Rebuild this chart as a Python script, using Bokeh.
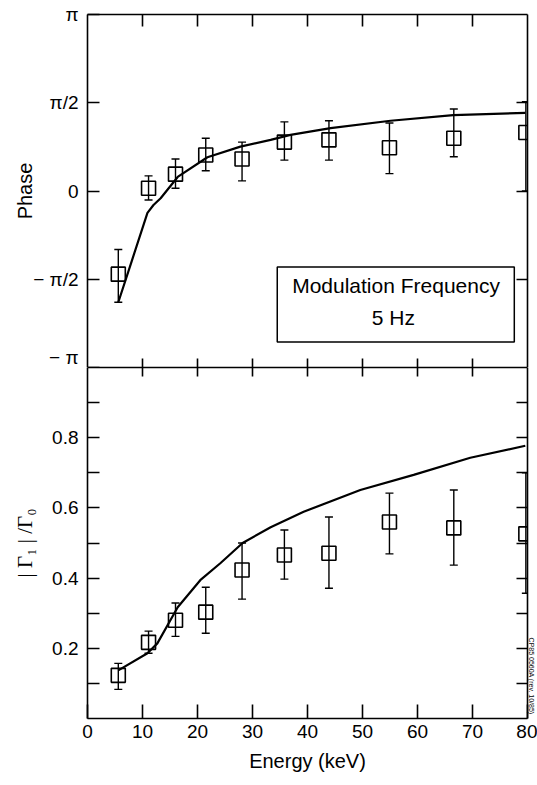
import numpy as np
from bokeh.plotting import figure
from bokeh.layouts import column
from bokeh.models import (Range1d, LinearAxis, FixedTicker, ColumnDataSource, Whisker,
                          TeeHead, BoxAnnotation, Label, CustomJSTickFormatter, Title)
from bokeh.embed import file_html
from bokeh.resources import INLINE

# ---------------- data ----------------
energy = [5.6, 11.1, 16.0, 21.5, 28.1, 35.8, 43.9, 54.9, 66.6, 79.7]

phase = [-1.48, 0.05, 0.30, 0.64, 0.57, 0.87, 0.91, 0.77, 0.94, 1.04]
phase_hi = [-1.04, 0.27, 0.57, 0.94, 0.87, 1.23, 1.25, 1.21, 1.46, 1.59]
phase_lo = [-1.98, -0.16, 0.05, 0.36, 0.18, 0.55, 0.55, 0.31, 0.61, 0.00]

phase_fit_e = [5.6, 8.0, 10.9, 12.0, 13.3, 16.4, 21.8, 27.8, 33.3, 36.9, 44.2, 55.1, 66.5, 79.6]
phase_fit = [-1.98, -1.26, -0.39, -0.25, -0.13, 0.25, 0.60, 0.79, 0.91, 1.00, 1.12, 1.25, 1.35, 1.39]

amp = [0.123, 0.217, 0.280, 0.303, 0.423, 0.466, 0.471, 0.560, 0.543, 0.526]
amp_hi = [0.157, 0.249, 0.329, 0.374, 0.500, 0.537, 0.574, 0.642, 0.651, 0.700]
amp_lo = [0.083, 0.186, 0.234, 0.243, 0.340, 0.397, 0.371, 0.469, 0.437, 0.357]

amp_fit_e = [5.6, 10.9, 12.7, 16.4, 20.5, 24.2, 28.2, 33.3, 39.3, 49.6, 59.3, 69.6, 79.6]
amp_fit = [0.137, 0.186, 0.214, 0.317, 0.394, 0.443, 0.500, 0.545, 0.589, 0.651, 0.694, 0.743, 0.777]

x_ticks = [0, 10, 20, 30, 40, 50, 60, 70, 80]
inner_x_ticks = [10, 20, 30, 40, 50, 60, 70]
phase_ticks = [-np.pi, -np.pi / 2, 0, np.pi / 2, np.pi]
phase_labels = ["− π", "− π/2", "0", "π/2", "π"]
amp_major = [0.2, 0.4, 0.6, 0.8]
amp_minor = [0.1, 0.3, 0.5, 0.7, 0.9]

FONT = "Liberation Sans"
LW = 1.6
TICK_FS = "19px"

xr = Range1d(0, 80)


def hidden_axis(ticks, tick_in, minor=None):
    return LinearAxis(ticker=FixedTicker(ticks=ticks, minor_ticks=minor or []),
                      formatter=CustomJSTickFormatter(code="return ''"),
                      major_tick_in=tick_in, major_tick_out=0,
                      minor_tick_in=tick_in, minor_tick_out=0,
                      major_label_text_font_size="1px", major_label_standoff=0,
                      axis_line_width=LW, major_tick_line_width=LW,
                      minor_tick_line_width=LW, axis_line_color="black")


# ---------------- top panel ----------------
top = figure(frame_width=440, frame_height=353, x_range=xr, y_range=Range1d(-np.pi, np.pi),
             output_backend="svg", toolbar_location=None, x_axis_location=None,
             y_axis_location=None, min_border_left=87, min_border_right=10,
             min_border_top=14, min_border_bottom=0)
top.grid.visible = False
top.outline_line_color = None

yl = LinearAxis(ticker=FixedTicker(ticks=phase_ticks),
                major_label_overrides={t: l for t, l in zip(phase_ticks, phase_labels)},
                major_tick_in=12, major_tick_out=0, minor_tick_in=0, minor_tick_out=0,
                major_label_standoff=9, major_label_text_font=FONT,
                major_label_text_font_size=TICK_FS, major_label_text_color="black",
                axis_label="Phase", axis_label_text_font=FONT,
                axis_label_text_font_size="20px", axis_label_text_font_style="normal",
                axis_label_text_color="black",
                axis_label_standoff=-6, axis_line_width=LW, major_tick_line_width=LW)
top.add_layout(yl, "left")
top.add_layout(hidden_axis(inner_x_ticks, 12), "above")
top.add_layout(hidden_axis([-np.pi / 2, 0, np.pi / 2], 11), "right")
top.add_layout(hidden_axis(inner_x_ticks, 9), "below")

src_p = ColumnDataSource(dict(x=energy, y=phase, hi=phase_hi, lo=phase_lo))
top.add_layout(Whisker(base="x", upper="hi", lower="lo", source=src_p, line_width=1.4,
                       upper_head=TeeHead(size=8, line_width=1.4),
                       lower_head=TeeHead(size=8, line_width=1.4)))
top.line(phase_fit_e, phase_fit, line_width=2.2, line_color="black")
top.scatter("x", "y", source=src_p, marker="square", size=14, fill_color=None,
            line_color="black", line_width=1.6)

top.add_layout(BoxAnnotation(left=34.5, right=77.6, top=-1.353, bottom=-2.687,
                             fill_color="white", fill_alpha=1.0,
                             line_color="black", line_alpha=1.0, line_width=1.5))
top.add_layout(Label(x=56.1, y=-1.69, text="Modulation Frequency", text_align="center",
                     text_baseline="middle", text_font=FONT, text_font_size="21px",
                     text_color="black"))
top.add_layout(Label(x=55.6, y=-2.26, text="5 Hz", text_align="center",
                     text_baseline="middle", text_font=FONT, text_font_size="21px",
                     text_color="black"))

# ---------------- bottom panel ----------------
bot = figure(frame_width=440, frame_height=351, x_range=xr, y_range=Range1d(0, 1.0),
             output_backend="svg", toolbar_location=None, x_axis_location=None,
             y_axis_location=None, min_border_left=87, min_border_right=10,
             min_border_top=0, min_border_bottom=67)
bot.grid.visible = False
bot.outline_line_color = None

yl2 = LinearAxis(ticker=FixedTicker(ticks=amp_major, minor_ticks=amp_minor),
                 major_tick_in=12, major_tick_out=0, minor_tick_in=12, minor_tick_out=0,
                 major_label_standoff=9, major_label_text_font=FONT,
                 major_label_text_font_size=TICK_FS, major_label_text_color="black",
                 axis_label="| Γ₁ | /Γ₀", axis_label_text_font="Liberation Serif",
                 axis_label_text_font_size="21px", axis_label_text_font_style="normal",
                 axis_label_text_color="black",
                 axis_label_standoff=12, axis_line_width=LW, major_tick_line_width=LW,
                 minor_tick_line_width=LW)
bot.add_layout(yl2, "left")

xl = LinearAxis(ticker=FixedTicker(ticks=x_ticks),
                major_tick_in=14, major_tick_out=0, minor_tick_in=0, minor_tick_out=0,
                major_label_standoff=6, major_label_text_font=FONT,
                major_label_text_font_size=TICK_FS, major_label_text_color="black",
                axis_label="Energy (keV)", axis_label_text_font=FONT,
                axis_label_text_font_size="20px", axis_label_text_font_style="normal",
                axis_label_text_color="black",
                axis_label_standoff=9, axis_line_width=LW, major_tick_line_width=LW)
bot.add_layout(xl, "below")
bot.add_layout(hidden_axis(inner_x_ticks, 9), "above")
bot.add_layout(hidden_axis(amp_major, 11, amp_minor), "right")

src_a = ColumnDataSource(dict(x=energy, y=amp, hi=amp_hi, lo=amp_lo))
bot.add_layout(Whisker(base="x", upper="hi", lower="lo", source=src_a, line_width=1.4,
                       upper_head=TeeHead(size=8, line_width=1.4),
                       lower_head=TeeHead(size=8, line_width=1.4)))
bot.line(amp_fit_e, amp_fit, line_width=2.2, line_color="black")
bot.scatter("x", "y", source=src_a, marker="square", size=14, fill_color=None,
            line_color="black", line_width=1.6)

bot.add_layout(Title(text="CP85 0560A (rev. 10/85)", align="right", text_font=FONT,
                     text_font_size="7px", text_font_style="normal", text_color="black",
                     standoff=0, offset=4), "right")

p = column(top, bot, spacing=0)

open("out.html", "w").write(file_html(p, INLINE))
